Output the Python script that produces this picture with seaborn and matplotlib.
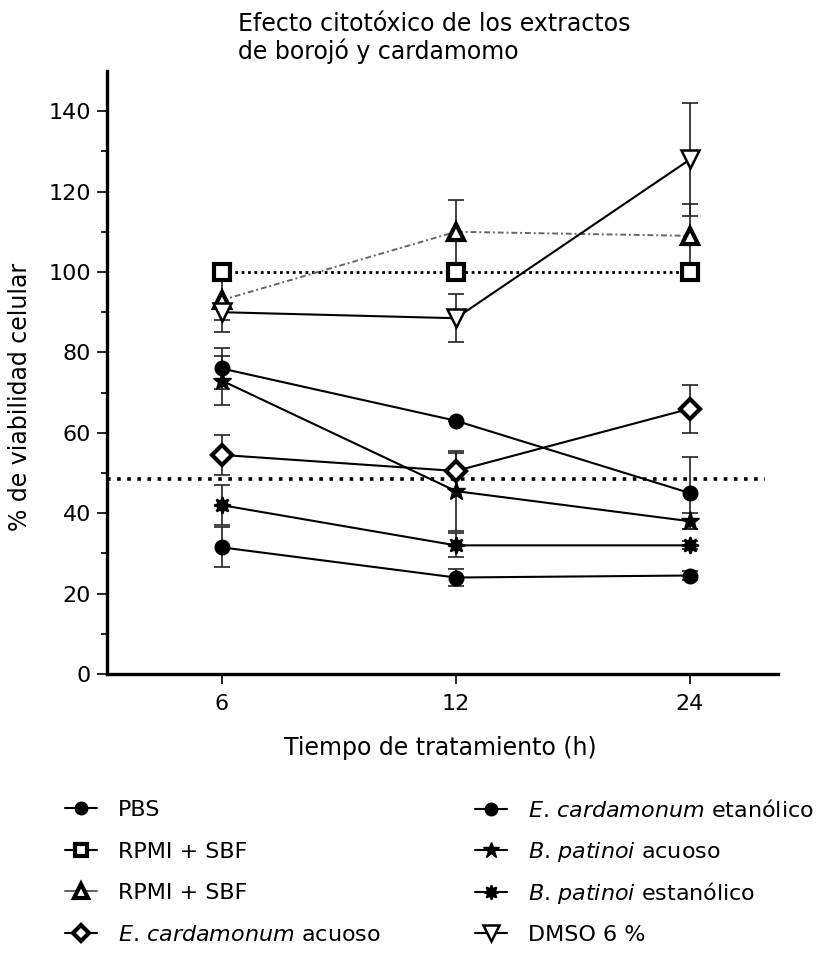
import matplotlib
matplotlib.use("Agg")
import matplotlib.pyplot as plt
import seaborn as sns
import numpy as np
import pandas as pd

# ---- data ----
times = ["6", "12", "24"]
pbs = [31.5, 24.0, 24.5]
pbs_err = [5.0, 2.0, 1.0]
rpmi_sq = [100.0, 100.0, 100.0]
rpmi_sq_err = [0.0, 0.0, 0.0]
rpmi_tri = [93.0, 110.0, 109.0]
rpmi_tri_err = [8.0, 8.0, 8.0]
ecard_acu = [54.5, 50.5, 66.0]
ecard_acu_err = [5.0, 4.5, 6.0]
ecard_eta = [76.0, 63.0, 45.0]
ecard_eta_err = [5.0, 0.0, 9.0]
bpat_acu = [73.0, 45.5, 38.0]
bpat_acu_err = [6.0, 10.0, 2.0]
bpat_eta = [42.0, 32.0, 32.0]
bpat_eta_err = [5.0, 3.0, 1.0]
dmso = [90.0, 88.5, 128.0]
dmso_err = [2.0, 6.0, 14.0]
threshold = 48.5

labels = ["PBS", "RPMI + SBF", "RPMI + SBF",
          r"$\it{E}$. $\it{cardamonum}$ acuoso",
          r"$\it{E}$. $\it{cardamonum}$ etanólico",
          r"$\it{B}$. $\it{patinoi}$ acuoso",
          r"$\it{B}$. $\it{patinoi}$ estanólico",
          "DMSO 6 %"]

sns.set_theme(style="ticks")
plt.rcParams['font.family'] = ['DejaVu Sans']
plt.rcParams['mathtext.fontset'] = 'dejavusans'
plt.rcParams['text.color'] = 'black'

FS = 17

fig = plt.figure(figsize=(8.26, 9.55), dpi=100)
ax = fig.add_axes([107/826, 1-674/955, (778-107)/826, (674-71)/955])

pos = np.arange(len(times))

series = [
    (pbs, pbs_err, dict(marker='o', mfc='black', mec='black', ms=10, mew=1.5, color='black', lw=1.5, ls='-')),
    (rpmi_sq, rpmi_sq_err, dict(marker='s', mfc='white', mec='black', ms=11, mew=3, color='black', lw=2.0, ls=(0, (1, 1.3)))),
    (rpmi_tri, rpmi_tri_err, dict(marker='^', mfc='white', mec='black', ms=12, mew=3, color='#666666', lw=1.4, ls=(0, (3, 1.5, 1, 1.5)))),
    (ecard_acu, ecard_acu_err, dict(marker='D', mfc='white', mec='black', ms=10, mew=3, color='black', lw=1.5, ls='-')),
    (ecard_eta, ecard_eta_err, dict(marker='o', mfc='black', mec='black', ms=10, mew=1.5, color='black', lw=1.5, ls='-')),
    (bpat_acu, bpat_acu_err, dict(marker='*', mfc='black', mec='black', ms=14, mew=1, color='black', lw=1.5, ls='-')),
    (bpat_eta, bpat_eta_err, dict(marker=(8, 1, 0), mfc='black', mec='black', ms=12, mew=1.5, color='black', lw=1.5, ls='-')),
    (dmso, dmso_err, dict(marker='v', mfc='white', mec='black', ms=13, mew=1.8, color='black', lw=1.5, ls='-')),
]

# error bars
for vals, errs, st in series:
    e = np.array(errs)
    ax.errorbar(pos, vals, yerr=e, fmt='none', ecolor='#222222', elinewidth=1.2,
                capsize=6, capthick=1.2, zorder=2)

handles = []
for (vals, errs, st), lab in zip(series, labels):
    df = pd.DataFrame({"t": pos, "v": vals})
    sns.lineplot(data=df, x="t", y="v", ax=ax, color=st['color'], lw=st['lw'],
                 linestyle=st['ls'], marker=st['marker'], markersize=st['ms'],
                 markerfacecolor=st['mfc'], markeredgecolor=st['mec'],
                 markeredgewidth=st['mew'], zorder=3)
    h = matplotlib.lines.Line2D([], [], color=st['color'], lw=1.5, ls='-',
                                marker=st['marker'], markersize=st['ms'] * 0.85,
                                markerfacecolor=st['mfc'], markeredgecolor=st['mec'],
                                markeredgewidth=st['mew'])
    handles.append(h)

ax.axhline(threshold, xmin=0, xmax=(765-107)/(778-107), color='black', lw=2.6,
           ls=(0, (1, 1.8)), zorder=1)

ax.set_xlim(-0.49, 2.376)
ax.set_ylim(0, 150)
ax.set_xticks(pos)
ax.set_xticklabels(times)
ax.set_yticks(np.arange(0, 141, 20))
ax.set_yticks(np.arange(10, 141, 20), minor=True)
ax.set_xlabel("")
ax.set_ylabel("")
for s in ['top', 'right']:
    ax.spines[s].set_visible(False)
for s in ['left', 'bottom']:
    ax.spines[s].set_linewidth(2.4)
    ax.spines[s].set_color('black')
ax.tick_params(axis='both', which='major', length=7.5, width=1.2, labelsize=16,
               colors='black', pad=4)
ax.tick_params(axis='x', which='major', pad=7)
ax.tick_params(axis='y', which='minor', length=4.5, width=1.2, colors='black')

fig.text(238/826, 1-12/955, "Efecto citotóxico de los extractos\nde borojó y cardamomo",
         ha='left', va='top', fontsize=FS, linespacing=1.12)
fig.text(20/826, 1-397/955, "% de viabilidad celular", rotation=90,
         ha='center', va='center', fontsize=FS)
fig.text(440/826, 1-748/955, "Tiempo de tratamiento (h)", ha='center', va='center',
         fontsize=FS)

kw = dict(frameon=False, fontsize=16, handlelength=1.45, handletextpad=0.95,
          borderaxespad=0, borderpad=0, loc='center left')
rows_y = [810, 852, 893, 935]
for i, (h, lab) in enumerate(zip(handles, labels)):
    col = i // 4
    row = i % 4
    x0 = 65 if col == 0 else 475
    fig.legend([h], [lab], bbox_to_anchor=(x0/826, 1-rows_y[row]/955), **kw)

fig.savefig("out.png", dpi=100)
